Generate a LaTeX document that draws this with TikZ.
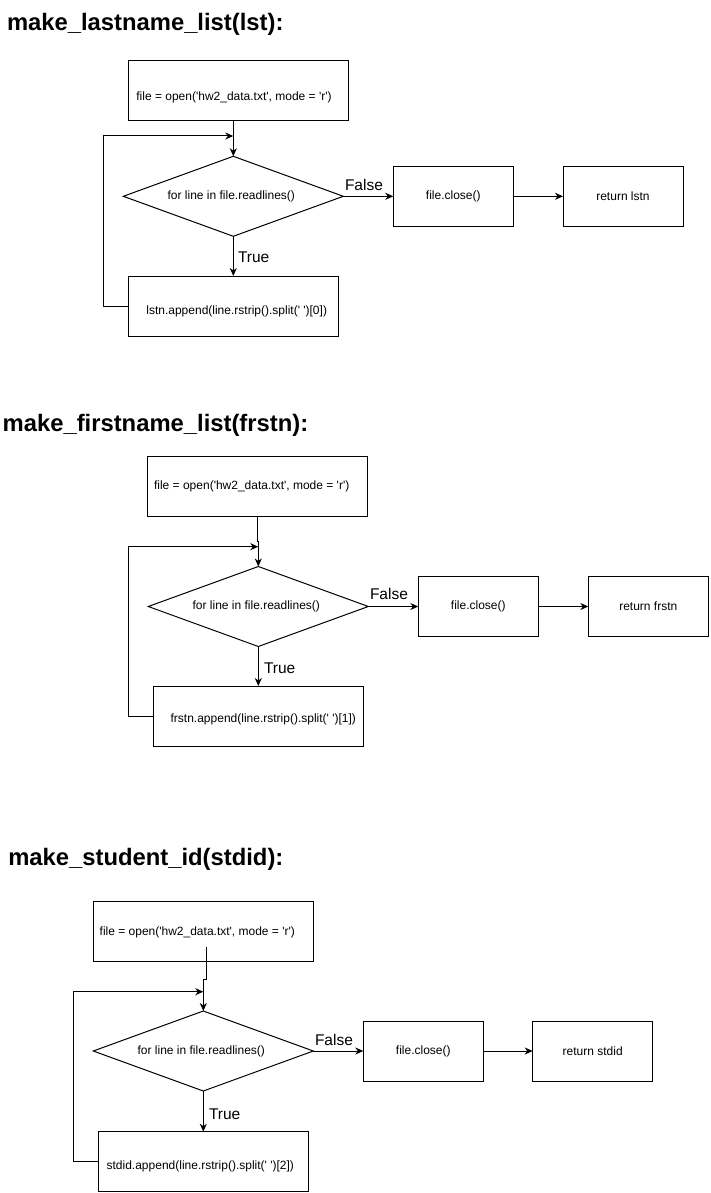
\documentclass[tikz,border=0pt]{standalone}
\usepackage{fontspec}
\newfontfamily\arial{Liberation Sans}
\usetikzlibrary{arrows.meta,shapes.geometric}
% place a line of text inside its node with a small horizontal kern and a set box height
\newcommand{\nudge}[3]{\raisebox{0pt}[#2][0pt]{\kern#1#3}}
\begin{document}
\begin{tikzpicture}[x=1pt,y=-1pt,
  every node/.style={inner sep=0pt, outer sep=0pt},
  flow/.style={line width=1pt},
  arr/.style={flow, -{Stealth[length=8pt,width=7pt,inset=2.5pt]}},
  procbox/.style={draw, line width=1pt, rectangle, font=\arial\fontsize{12}{14}\selectfont, minimum height=60pt},
  wide/.style={procbox, minimum width=220pt},
  appendbox/.style={procbox, minimum width=210pt},
  small/.style={procbox, minimum width=120pt},
  decision/.style={draw, line width=1pt, diamond, aspect=2.75, minimum width=220pt, minimum height=80pt, font=\arial\fontsize{12}{14}\selectfont},
  branch/.style={anchor=base west, font=\arial\fontsize{15.5}{18}\selectfont},
  heading/.style={anchor=base west, font=\arial\bfseries\fontsize{23.8}{28}\selectfont}]

\useasboundingbox (0,0) rectangle (710,1193);

% ---------- make_lastname_list ----------
\node[heading] (t1) at (7,31) {make\_lastname\_list(lst):};
\node[wide] (o1) at (238,91) {\nudge{-8pt}{18.3pt}{file = open('hw2\_data.txt', mode = 'r')}};
\node[decision] (d1) at (233.3,196.3) {\nudge{-4pt}{6.3pt}{for line in file.readlines()}};
\node[appendbox] (b1) at (233.7,306) {\nudge{6pt}{16.3pt}{lstn.append(line.rstrip().split(' ')[0])}};
\node[small] (c1) at (453.3,196.3) {file.close()};
\node[small] (r1) at (623,196.3) {return lstn};
\coordinate (l1) at (103.3,136);
\draw[arr] (o1.south -| d1.north) -- (d1.north);
\draw[arr] (b1.west) -| (l1) -- (d1.north |- l1);
\draw[arr] (d1.south) -- (d1.south |- b1.north);
\node[branch] (y1) at (238,262) {True};
\draw[arr] (d1.east) -- (c1.west);
\node[branch] (n1) at (345,190.5) {False};
\draw[arr] (c1.east) -- (r1.west);

% ---------- make_firstname_list ----------
\node[heading] (t2) at (2.7,431) {make\_firstname\_list(frstn):};
\node[wide] (o2) at (257.7,486) {\nudge{-12pt}{6.3pt}{file = open('hw2\_data.txt', mode = 'r')}};
\node[decision] (d2) at (258.3,606.5) {\nudge{-4pt}{6.3pt}{for line in file.readlines()}};
\node[appendbox] (b2) at (258.3,716) {\nudge{10pt}{12.3pt}{frstn.append(line.rstrip().split(' ')[1])}};
\node[small] (c2) at (478.3,606.5) {file.close()};
\node[small] (r2) at (648.3,606.5) {return frstn};
\coordinate (j2) at (257.3,541.7);
\coordinate (l2) at (128.3,546.7);
\draw[arr] (o2.south -| j2) -- (j2) -- (j2 -| d2.north) -- (d2.north);
\draw[arr] (b2.west) -| (l2) -- (d2.north |- l2);
\draw[arr] (d2.south) -- (d2.south |- b2.north);
\node[branch] (y2) at (264,673.5) {True};
\draw[arr] (d2.east) -- (c2.west);
\node[branch] (n2) at (370,599.5) {False};
\draw[arr] (c2.east) -- (r2.west);

% ---------- make_student_id ----------
\node[heading] (t3) at (8.3,865) {make\_student\_id(stdid):};
\node[wide] (o3) at (203.3,931.3) {\nudge{-12pt}{8.3pt}{file = open('hw2\_data.txt', mode = 'r')}};
\node[decision] (d3) at (203.3,1051) {\nudge{-4pt}{6.3pt}{for line in file.readlines()}};
\node[appendbox] (b3) at (203.3,1161.7) {\nudge{-6pt}{16.3pt}{stdid.append(line.rstrip().split(' ')[2])}};
\node[small] (c3) at (423.3,1051) {file.close()};
\node[small] (r3) at (592.7,1051) {return stdid};
\coordinate (s3) at (206,946.7);
\coordinate (j3) at (206,979);
\coordinate (l3) at (73.3,991.7);
\draw[arr] (s3) -- (j3) -- (j3 -| d3.north) -- (d3.north);
\draw[arr] (b3.west) -| (l3) -- (d3.north |- l3);
\draw[arr] (d3.south) -- (d3.south |- b3.north);
\node[branch] (y3) at (209,1119) {True};
\draw[arr] (d3.east) -- (c3.west);
\node[branch] (n3) at (315,1045) {False};
\draw[arr] (c3.east) -- (r3.west);
\end{tikzpicture}
\end{document}
